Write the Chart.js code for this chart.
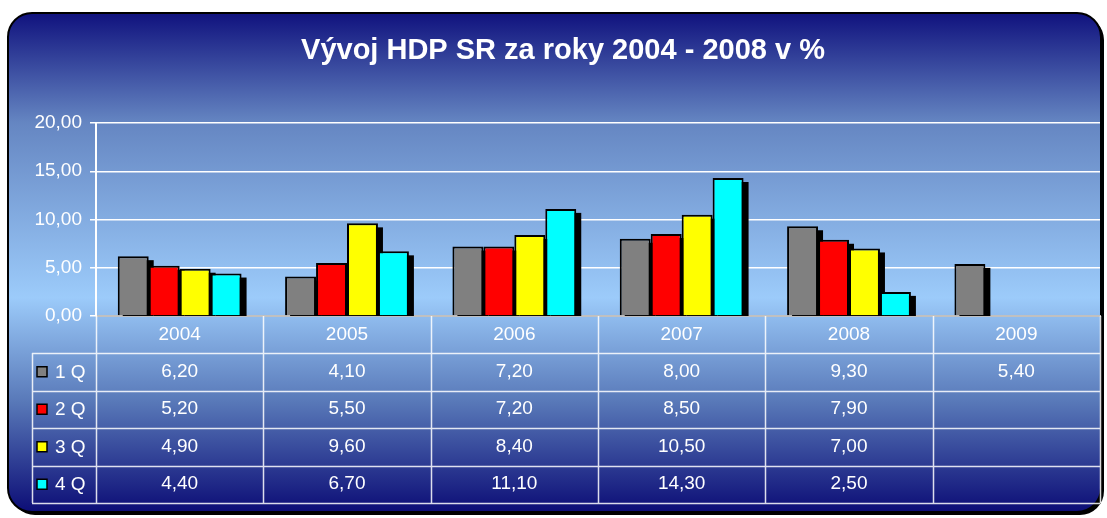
<!DOCTYPE html>
<html>
<head>
<meta charset="utf-8">
<script src="https://cdn.jsdelivr.net/npm/chart.js@4/dist/chart.umd.min.js"></script>
<style>
  html, body { margin: 0; padding: 0; background: #fff; }
  #wrap { width: 1107px; height: 518px; position: relative; }
</style>
</head>
<body>
<div id="wrap"><canvas id="hdp" width="1107" height="518"></canvas></div>
<script>
// data
const years = ['2004', '2005', '2006', '2007', '2008', '2009'];
const q1 = [6.2, 4.1, 7.2, 8.0, 9.3, 5.4];
const q2 = [5.2, 5.5, 7.2, 8.5, 7.9, null];
const q3 = [4.9, 9.6, 8.4, 10.5, 7.0, null];
const q4 = [4.4, 6.7, 11.1, 14.3, 2.5, null];
const seriesNames = ['1 Q', '2 Q', '3 Q', '4 Q'];
const yTicks = [0, 5, 10, 15, 20];
const title = 'Vývoj HDP SR za roky 2004 - 2008 v %';

const colors = ['#808080', '#ff0000', '#ffff00', '#00ffff'];
const FONT = '"Liberation Sans", Arial, sans-serif';
const fmt = v => v.toFixed(2).replace('.', ',');

// rounded background + title
const backdrop = {
    id: 'backdrop',
    beforeDraw(chart) {
        const ctx = chart.ctx;
        const x = 8, y = 13, w = 1093, h = 499, r = 24;
        const path = () => {
            ctx.beginPath();
            ctx.moveTo(x + r, y);
            ctx.arcTo(x + w, y, x + w, y + h, r);
            ctx.arcTo(x + w, y + h, x, y + h, r);
            ctx.arcTo(x, y + h, x, y, r);
            ctx.arcTo(x, y, x + w, y, r);
            ctx.closePath();
        };
        ctx.save();
        ctx.translate(3, 3);
        path();
        ctx.fillStyle = '#000';
        ctx.fill();
        ctx.restore();

        ctx.save();
        const g = ctx.createLinearGradient(0, y, 0, y + h);
        g.addColorStop(0, '#10127e');
        g.addColorStop(0.22, '#6586c2');
        g.addColorStop(0.57, '#9ccbfa');
        g.addColorStop(0.78, '#5878b8');
        g.addColorStop(1, '#0c0d76');
        path();
        ctx.fillStyle = g;
        ctx.fill();
        ctx.lineWidth = 2;
        ctx.strokeStyle = '#000';
        ctx.stroke();

        ctx.fillStyle = '#fff';
        ctx.font = 'bold 29px ' + FONT;
        ctx.textAlign = 'center';
        ctx.textBaseline = 'middle';
        ctx.fillText(title, 563, 51);
        ctx.restore();
    }
};

// black drop shadow behind each bar
const barShadow = {
    id: 'barShadow',
    beforeDatasetsDraw(chart) {
        const ctx = chart.ctx;
        const a = chart.chartArea;
        ctx.save();
        ctx.beginPath();
        ctx.rect(a.left, a.top, a.right - a.left, a.bottom - a.top);
        ctx.clip();
        ctx.fillStyle = '#000';
        chart.data.datasets.forEach((ds, i) => {
            chart.getDatasetMeta(i).data.forEach(bar => {
                if (bar.skip) return;
                const left = bar.x - bar.width / 2 + 5;
                ctx.fillRect(left, bar.y + 4, bar.width, bar.base - bar.y);
            });
        });
        ctx.restore();
    }
};

// data table under the axis
const dataTable = {
    id: 'dataTable',
    afterDraw(chart) {
        const ctx = chart.ctx;
        const xs = chart.scales.x;
        const a = chart.chartArea;
        const rowH = 37.5;
        const top = a.bottom + 37;
        const bottom = top + rowH * 4;
        const legL = 32;
        const step = xs.getPixelForValue(1) - xs.getPixelForValue(0);
        const all = [q1, q2, q3, q4];

        ctx.save();
        ctx.strokeStyle = 'rgba(255,255,255,0.85)';
        ctx.lineWidth = 1.5;
        ctx.beginPath();
        // vertical lines
        for (let i = 0; i <= years.length; i++) {
            const px = Math.round(xs.getPixelForValue(i) - step / 2) + 0.5;
            ctx.moveTo(px, a.bottom);
            ctx.lineTo(px, bottom);
        }
        ctx.moveTo(legL + 0.5, top);
        ctx.lineTo(legL + 0.5, bottom);
        // horizontal lines
        for (let r = 0; r <= 4; r++) {
            const py = Math.round(top + r * rowH) + 0.5;
            ctx.moveTo(legL, py);
            ctx.lineTo(a.right, py);
        }
        ctx.stroke();

        ctx.font = '19px ' + FONT;
        ctx.textBaseline = 'middle';
        all.forEach((vals, r) => {
            const cy = top + r * rowH + rowH / 2;
            ctx.fillStyle = colors[r];
            ctx.fillRect(37, cy - 5, 10, 10);
            ctx.strokeStyle = '#000';
            ctx.lineWidth = 1.5;
            ctx.strokeRect(37, cy - 5, 10, 10);
            ctx.fillStyle = '#fff';
            ctx.textAlign = 'left';
            ctx.fillText(seriesNames[r], 55, cy + 1);
            ctx.textAlign = 'center';
            vals.forEach((v, i) => {
                if (v === null) return;
                ctx.fillText(fmt(v), xs.getPixelForValue(i), cy);
            });
        });
        ctx.restore();
    }
};

new Chart(document.getElementById('hdp').getContext('2d'), {
    type: 'bar',
    data: {
        labels: years,
        datasets: [q1, q2, q3, q4].map((d, i) => ({
            label: seriesNames[i],
            data: d,
            backgroundColor: colors[i],
            borderColor: '#000',
            borderWidth: 2,
            borderSkipped: 'bottom',
            categoryPercentage: 0.74,
            barPercentage: 1.0
        }))
    },
    options: {
        responsive: false,
        animation: false,
        devicePixelRatio: 1,
        layout: { padding: { left: 32, right: 7, top: 123, bottom: 165 } },
        plugins: {
            legend: { display: false },
            title: { display: false },
            tooltip: { enabled: false }
        },
        scales: {
            x: {
                grid: { display: false },
                border: { color: '#c0c0c0', width: 2 },
                ticks: {
                    color: '#fff',
                    font: { family: FONT, size: 19 },
                    padding: -1
                },
                afterFit(s) { s.height = 37; }
            },
            y: {
                min: 0,
                max: 20,
                afterBuildTicks(s) { s.ticks = yTicks.map(v => ({ value: v })); },
                grid: { color: '#ffffff', lineWidth: 1.5, tickLength: 6 },
                border: { color: '#ffffff', width: 2 },
                ticks: {
                    color: '#fff',
                    font: { family: FONT, size: 19 },
                    padding: 8,
                    callback: v => fmt(v)
                },
                afterFit(s) { s.width = 64; }
            }
        }
    },
    plugins: [backdrop, barShadow, dataTable]
});
</script>
</body>
</html>
